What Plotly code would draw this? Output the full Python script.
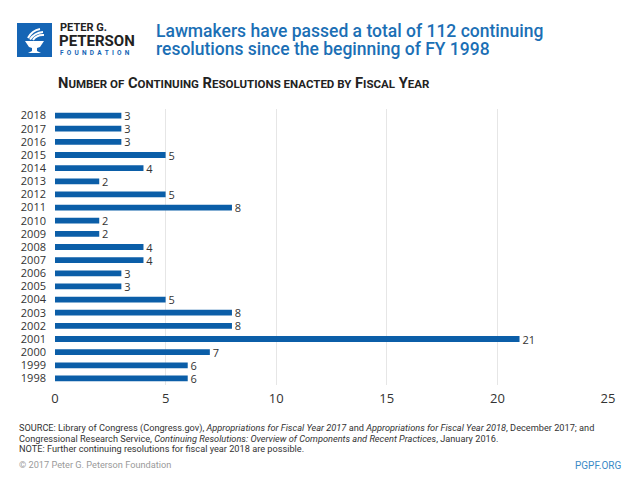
import plotly.graph_objects as go

years = [str(y) for y in range(1998, 2019)]
counts = [6, 6, 7, 21, 8, 8, 5, 3, 3, 4, 4, 2, 2, 8, 5, 2, 4, 5, 3, 3, 3]
x_ticks = [0, 5, 10, 15, 20, 25]

BLUE = "#0b5ea8"
TITLE_BLUE = "#1b6fb5"
SANS = "Roboto, sans-serif"
TXT = "#333333"

fig = go.Figure()
fig.add_trace(go.Bar(
    x=counts, y=years, orientation="h",
    marker=dict(color=BLUE, line=dict(width=0)),
    text=["\u00a0" + str(c) for c in counts], textposition="outside", constraintext="none",
    textfont=dict(family="Open Sans, Lato, sans-serif", size=11, color=TXT),
    cliponaxis=False, hoverinfo="skip",
))

# the page body has an 8px margin: figure is 632x472, drawn at page offset (8, 8)
fig.update_layout(
    width=632, height=472,
    margin=dict(l=47, r=32, t=101, b=95),
    paper_bgcolor="white", plot_bgcolor="white",
    bargap=0.56, showlegend=False,
    xaxis=dict(range=[0, 25], tickvals=x_ticks, showgrid=True, gridcolor="#e6e6e6",
               gridwidth=1, zeroline=False, showline=False, ticks="", automargin=False,
               ticklabelstandoff=4,
               tickfont=dict(family="Open Sans, Lato, sans-serif", size=13, color=TXT)),
    yaxis=dict(type="category", categoryorder="array", categoryarray=years, automargin=False,
               showgrid=False, zeroline=False, showline=False, ticks="", ticklabelstandoff=8,
               tickfont=dict(family="Open Sans, Lato, sans-serif", size=11, color=TXT)),
)

# page-pixel -> paper coordinates (plot area spans page x 55..608, y 109..385)
def px(x):
    return (x - 55) / 553

def py(y):
    return (385 - y) / 276

# logo square and a simple white torch inside it
fig.add_shape(type="rect", xref="paper", yref="paper",
              x0=px(17), x1=px(52), y0=py(57), y1=py(23),
              fillcolor="#1565b5", line=dict(width=0))
cup = (f"M {px(25)},{py(41)} L {px(44)},{py(41)} L {px(40)},{py(47)} L {px(37)},{py(48)} "
       f"L {px(37)},{py(51)} L {px(41)},{py(53)} L {px(28)},{py(53)} L {px(32)},{py(51)} "
       f"L {px(32)},{py(48)} L {px(29)},{py(47)} Z")
fig.add_shape(type="path", xref="paper", yref="paper", path=cup,
              fillcolor="white", line=dict(width=0))
for (x0, y0, x1, y1) in [(28, 38, 40, 29), (30, 39.5, 43, 32), (33, 40, 44, 35)]:
    fig.add_shape(type="path", xref="paper", yref="paper",
                  path=f"M {px(x0)},{py(y0)} Q {px((x0 + x1) / 2 - 2)},{py((y0 + y1) / 2 - 3)} {px(x1)},{py(y1)}",
                  line=dict(color="white", width=2))

anns = [
    dict(x=58, y=27, text="<b>PETER G.</b>", size=11, color="#222222", xanchor="left"),
    dict(x=57, y=41.5, text="<b>PETERSON</b>", size=15, color="#222222", xanchor="left"),
    dict(x=58, y=52.5, text="<b>F&#160; O&#160; U&#160; N&#160; D&#160; A&#160; T&#160; I&#160; O&#160; N</b>",
         size=6.5, color="#1565b5", xanchor="left"),
    dict(x=154, y=30.6, text="Lawmakers have passed a total of 112 continuing",
         size=17.5, color=TITLE_BLUE, xanchor="left", weight=500),
    dict(x=154, y=49, text="resolutions since the beginning of FY 1998",
         size=17.5, color=TITLE_BLUE, xanchor="left", weight=500),
    dict(x=56, y=83.5,
         text="<b>N<span style='font-size:11.5px'>UMBER OF</span> C<span style='font-size:11.5px'>ONTINUING</span> R<span style='font-size:11.5px'>ESOLUTIONS ENACTED BY</span> F<span style='font-size:11.5px'>ISCAL</span> Y<span style='font-size:11.5px'>EAR</span></b>",
         size=14.7, color="#222222", xanchor="left"),
    dict(x=17, y=428,
         text="SOURCE: Library of Congress (Congress.gov), <i>Appropriations for Fiscal Year 2017</i> and <i>Appropriations for Fiscal Year 2018</i>, December 2017; and",
         size=9.2, color=TXT, xanchor="left"),
    dict(x=17, y=438,
         text="Congressional Research Service, <i>Continuing Resolutions: Overview of Components and Recent Practices</i>, January 2016.",
         size=9.2, color=TXT, xanchor="left"),
    dict(x=17, y=448, text="NOTE: Further continuing resolutions for fiscal year 2018 are possible.",
         size=9.2, color=TXT, xanchor="left"),
    dict(x=17, y=464, text="© 2017 Peter G. Peterson Foundation", size=9.2, color="#9a9a9a", xanchor="left"),
    dict(x=623, y=465, text="PGPF.ORG", size=10, color="#3a8ac6", xanchor="right"),
]
for a in anns:
    font = dict(family=SANS, size=a["size"], color=a["color"])
    if a.get("weight"):
        font["weight"] = a["weight"]
    fig.add_annotation(x=px(a["x"]), y=py(a["y"]), xref="paper", yref="paper", text=a["text"],
                       showarrow=False, xanchor=a["xanchor"], yanchor="middle", align="left",
                       font=font)

fig.write_html("out.html")
